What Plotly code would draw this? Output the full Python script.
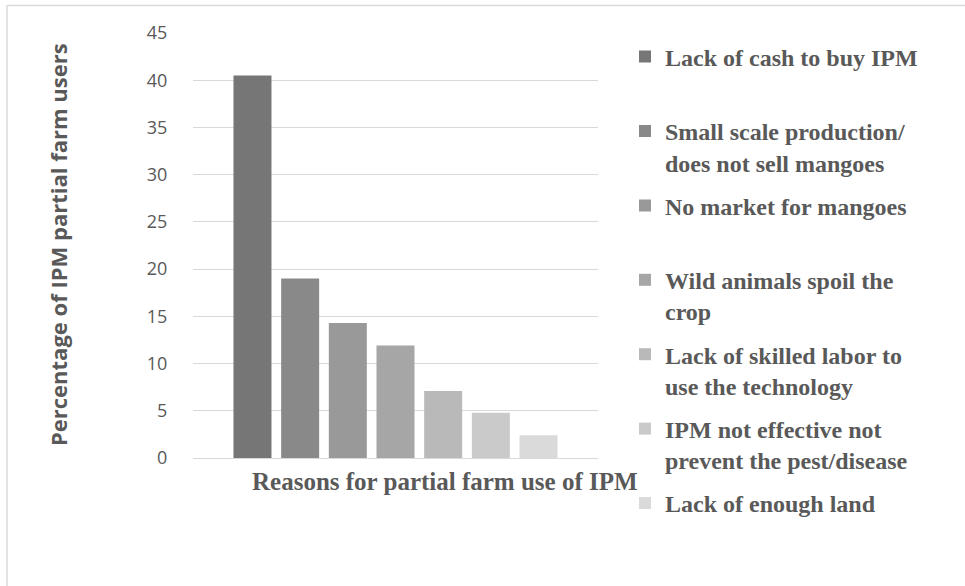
import plotly.graph_objects as go

# ---- data ----
reasons = [
    "Lack of cash to buy IPM",
    "Small scale production/<br>does not sell mangoes",
    "No market for mangoes",
    "Wild animals spoil the<br>crop",
    "Lack of skilled labor to<br>use the technology",
    "IPM not effective not<br>prevent the pest/disease",
    "Lack of enough land",
]
percentages = [40.5, 19.0, 14.3, 11.9, 7.1, 4.8, 2.4]
bar_colors = ["#767676", "#898989", "#999999", "#a6a6a6", "#b9b9b9", "#cacaca", "#dadada"]
category = ["Reasons for partial farm use of IPM"]
y_ticks = [0, 5, 10, 15, 20, 25, 30, 35, 40, 45]

W, H = 965, 586
ML, MR, MT, MB = 193, 367, 33, 128
PW, PH = W - ML - MR, H - MT - MB

fig = go.Figure()
for i, (name, val, col) in enumerate(zip(reasons, percentages, bar_colors)):
    label = name if "<br>" in name else name + "<br>\u00a0"
    fig.add_trace(go.Bar(
        x=category, y=[val], name=label, marker=dict(color=col, line=dict(width=0)),
        legendgroup=f"g{i}", hoverinfo="y",
    ))

grey = "#595959"
fig.update_layout(
    width=W, height=H,
    margin=dict(l=ML, r=MR, t=MT, b=MB, autoexpand=False),
    paper_bgcolor="white", plot_bgcolor="white",
    barmode="group", bargap=0.176, bargroupgap=0.203,
    showlegend=True,
    legend=dict(
        xref="container", yref="container",
        x=625 / W, y=1 - 34.5 / H, xanchor="left", yanchor="top",
        valign="top", traceorder="grouped", tracegroupgap=9,
        maxheight=560,
        font=dict(family="Liberation Serif", size=24, color=grey, weight="bold"),
        bgcolor="rgba(0,0,0,0)", borderwidth=0,
    ),
    xaxis=dict(showticklabels=False, showgrid=False, zeroline=False, showline=False, ticks=""),
    yaxis=dict(
        range=[0, 45], tickvals=y_ticks, ticktext=[str(t) for t in y_ticks],
        showgrid=True, gridcolor="#d9d9d9", gridwidth=1,
        zeroline=True, zerolinecolor="#d9d9d9", zerolinewidth=1,
        showline=False, ticks="outside", ticklen=21, tickcolor="rgba(0,0,0,0)",
        tickfont=dict(family="Open Sans", size=18, color=grey),
    ),
    annotations=[
        dict(text="Percentage of IPM partial farm users", textangle=-90,
             xref="paper", yref="paper", x=(58 - ML) / PW, y=(458 - 245) / PH,
             xanchor="center", yanchor="middle", showarrow=False,
             font=dict(family="Open Sans", size=22, color=grey, weight="bold")),
        dict(text=category[0],
             xref="paper", yref="paper", x=(445 - ML) / PW, y=(458 - 481) / PH,
             xanchor="center", yanchor="middle", showarrow=False,
             font=dict(family="Liberation Serif", size=25, color=grey, weight="bold")),
    ],
    shapes=[
        dict(type="line", xref="paper", yref="paper",
             x0=(7 - ML) / PW, x1=(W + 5 - ML) / PW,
             y0=(458 - 5.5) / PH, y1=(458 - 5.5) / PH,
             line=dict(color="#d9d9d9", width=1.5)),
        dict(type="line", xref="paper", yref="paper",
             x0=(7 - ML) / PW, x1=(7 - ML) / PW,
             y0=(458 - 5.5) / PH, y1=(458 - H - 5) / PH,
             line=dict(color="#d9d9d9", width=1.5)),
    ],
)

fig.write_html("out.html", config={"displayModeBar": False},
               post_script="document.body.style.margin='0';")
